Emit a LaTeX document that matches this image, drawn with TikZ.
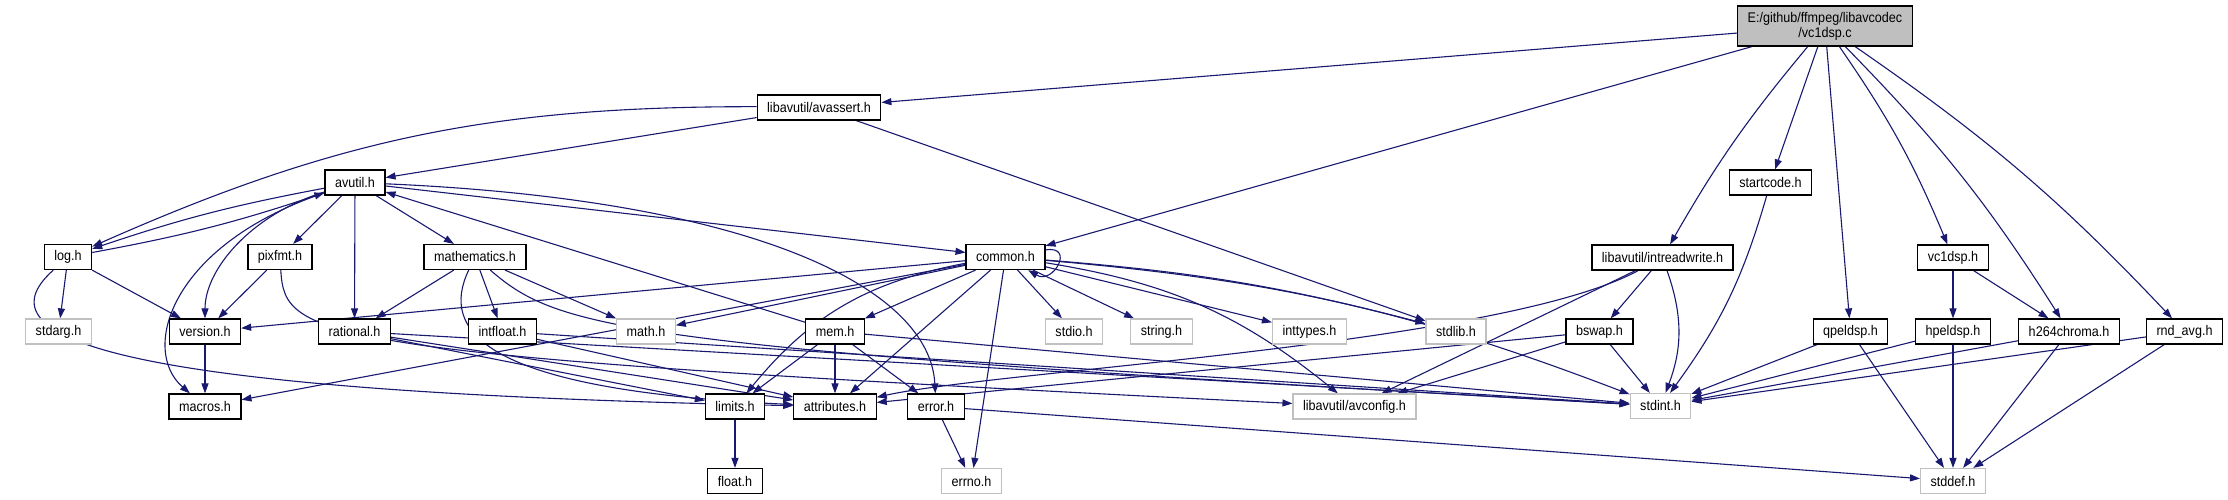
\documentclass[tikz,border=0pt]{standalone}
\usepackage{fontspec}
\setmainfont[FakeStretch=0.9]{Liberation Sans}
\usetikzlibrary{arrows.meta,backgrounds}
\definecolor{edgeblue}{HTML}{191970}
\definecolor{rootgray}{HTML}{BFBFBF}
\definecolor{sysgray}{HTML}{C0C0C0}
\tikzset{
  header/.style={draw=black,fill=white,line width=1.2pt,minimum height=25pt,inner xsep=10pt,inner ysep=0pt,font=\fontsize{14}{15}\selectfont},
  syshdr/.style={header,draw=sysgray},
  srcfile/.style={header,fill=rootgray,align=center,minimum height=40pt},
  incl/.style={-{Triangle[length=10pt,width=7pt,fill=edgeblue]},draw=edgeblue,line width=1.1pt},
}

\begin{document}
\begin{tikzpicture}[x=1pt,y=1pt]
  \useasboundingbox (0,0) rectangle (2228,500);
  % files
  \node[srcfile] (vcdspc) at (1825,474) {E:/github/ffmpeg/libavcodec\\/vc1dsp.c};
  \node[header] (avassert) at (819,392.5) {libavutil/avassert.h};
  \node[header] (avutil) at (355,317.5) {avutil.h};
  \node[header] (startcode) at (1770.5,317.5) {startcode.h};
  \node[header] (log) at (68,243) {log.h};
  \node[header] (pixfmt) at (280,243) {pixfmt.h};
  \node[header] (mathematics) at (475,243) {mathematics.h};
  \node[header] (common) at (1005.5,243) {common.h};
  \node[header] (intreadwrite) at (1662.5,242.5) {libavutil/intreadwrite.h};
  \node[header] (vcdsph) at (1953,242.5) {vc1dsp.h};
  \foreach \n/\t/\x in {version/version.h/205,rational/rational.h/354.5,intfloat/intfloat.h/502.5,mem/mem.h/835,bswap/bswap.h/1599.5,qpeldsp/qpeldsp.h/1850.5,hpeldsp/hpeldsp.h/1953,hchroma/h264chroma.h/2069,rndavg/rnd\_avg.h/2184.5}
    \node[header] (\n) at (\x,168.5) {\t};
  \foreach \n/\t/\x in {stdarg/stdarg.h/58.5,math/math.h/646,stdio/stdio.h/1074,string/string.h/1161.5,inttypes/inttypes.h/1309.5,stdlib/stdlib.h/1456}
    \node[syshdr] (\n) at (\x,168.5) {\t};
  \foreach \n/\t/\x in {macros/macros.h/205,limits/limits.h/735,attributes/attributes.h/835,error/error.h/936}
    \node[header] (\n) at (\x,93.5) {\t};
  \node[syshdr] (avconfig) at (1354.5,93.5) {libavutil/avconfig.h};
  \node[syshdr] (stdint) at (1660.5,94) {stdint.h};
  \node[header] (float) at (735,19) {float.h};
  \node[syshdr] (errno) at (971.5,19) {errno.h};
  \node[syshdr] (stddef) at (1953,19) {stddef.h};

  % includes
  \begin{scope}[on background layer]
  \foreach \a/\b in {vcdspc/avassert,vcdspc/common,vcdspc/startcode,vcdspc/qpeldsp,avassert/avutil,avassert/stdlib,avutil/pixfmt,avutil/rational,avutil/mathematics,avutil/common,mem/avutil,log/stdarg,log/version,pixfmt/version,mathematics/rational,mathematics/intfloat,mathematics/math,version/macros,rational/limits,rational/attributes,rational/stdint,intfloat/attributes,intfloat/stdint,common/version,common/macros,common/math,common/mem,common/attributes,common/errno,common/stdio,common/string,common/inttypes,mem/limits,mem/attributes,mem/error,mem/stdint,error/errno,error/stddef,intreadwrite/bswap,intreadwrite/avconfig,bswap/stdint,bswap/avconfig,bswap/attributes,vcdsph/hpeldsp,vcdsph/hchroma,qpeldsp/stdint,qpeldsp/stddef,hpeldsp/stdint,hpeldsp/stddef,hchroma/stdint,hchroma/stddef,rndavg/stdint,rndavg/stddef,limits/float}
    \draw[incl] (\a) -- (\b);
  \draw[incl] (vcdspc) to[bend right=5] (intreadwrite);
  \draw[incl] (vcdspc) to[bend left=6] (vcdsph);
  \draw[incl] (vcdspc) to[bend left=6] (hchroma);
  \draw[incl] (vcdspc) to[bend left=6] (rndavg);
  \draw[incl] (avassert) to[bend right=12] (log);
  \draw[incl] (avutil) to[bend right=4] (log);
  \draw[incl] (log) to[bend right=4] (avutil);
  \draw[incl] (avutil) .. controls (250,285) and (205,230) .. (version);
  \draw[incl] (avutil) .. controls (170,255) and (140,150) .. (macros);
  \draw[incl] (avutil) .. controls (760,300) and (930,210) .. (error);
  \draw[incl] (log) .. controls (-25,160) and (120,108) .. (attributes);
  \draw[incl] (pixfmt) .. controls (285,160) and (310,145) .. (avconfig);
  \draw[incl] (mathematics) .. controls (440,170) and (480,110) .. (attributes);
  \draw[incl] (mathematics) .. controls (560,170) and (620,152) .. (stdint);
  \draw[incl] (common.10) .. controls +(30,5) and +(25,-15) .. (common.-30);
  \draw[incl] (common) to[bend right=20] (limits);
  \draw[incl] (common) to[bend left=5] (stdlib);
  \draw[incl] (common) to[bend left=15] (avconfig);
  \draw[incl] (common) to[bend left=8] (stdint);
  \draw[incl] (intreadwrite) to[bend left=20] (stdint);
  \draw[incl] (intreadwrite) .. controls (1500,155) and (1000,130) .. (attributes);
  \draw[incl] (startcode) to[bend left=10] (stdint);
  \end{scope}
\end{tikzpicture}
\end{document}
